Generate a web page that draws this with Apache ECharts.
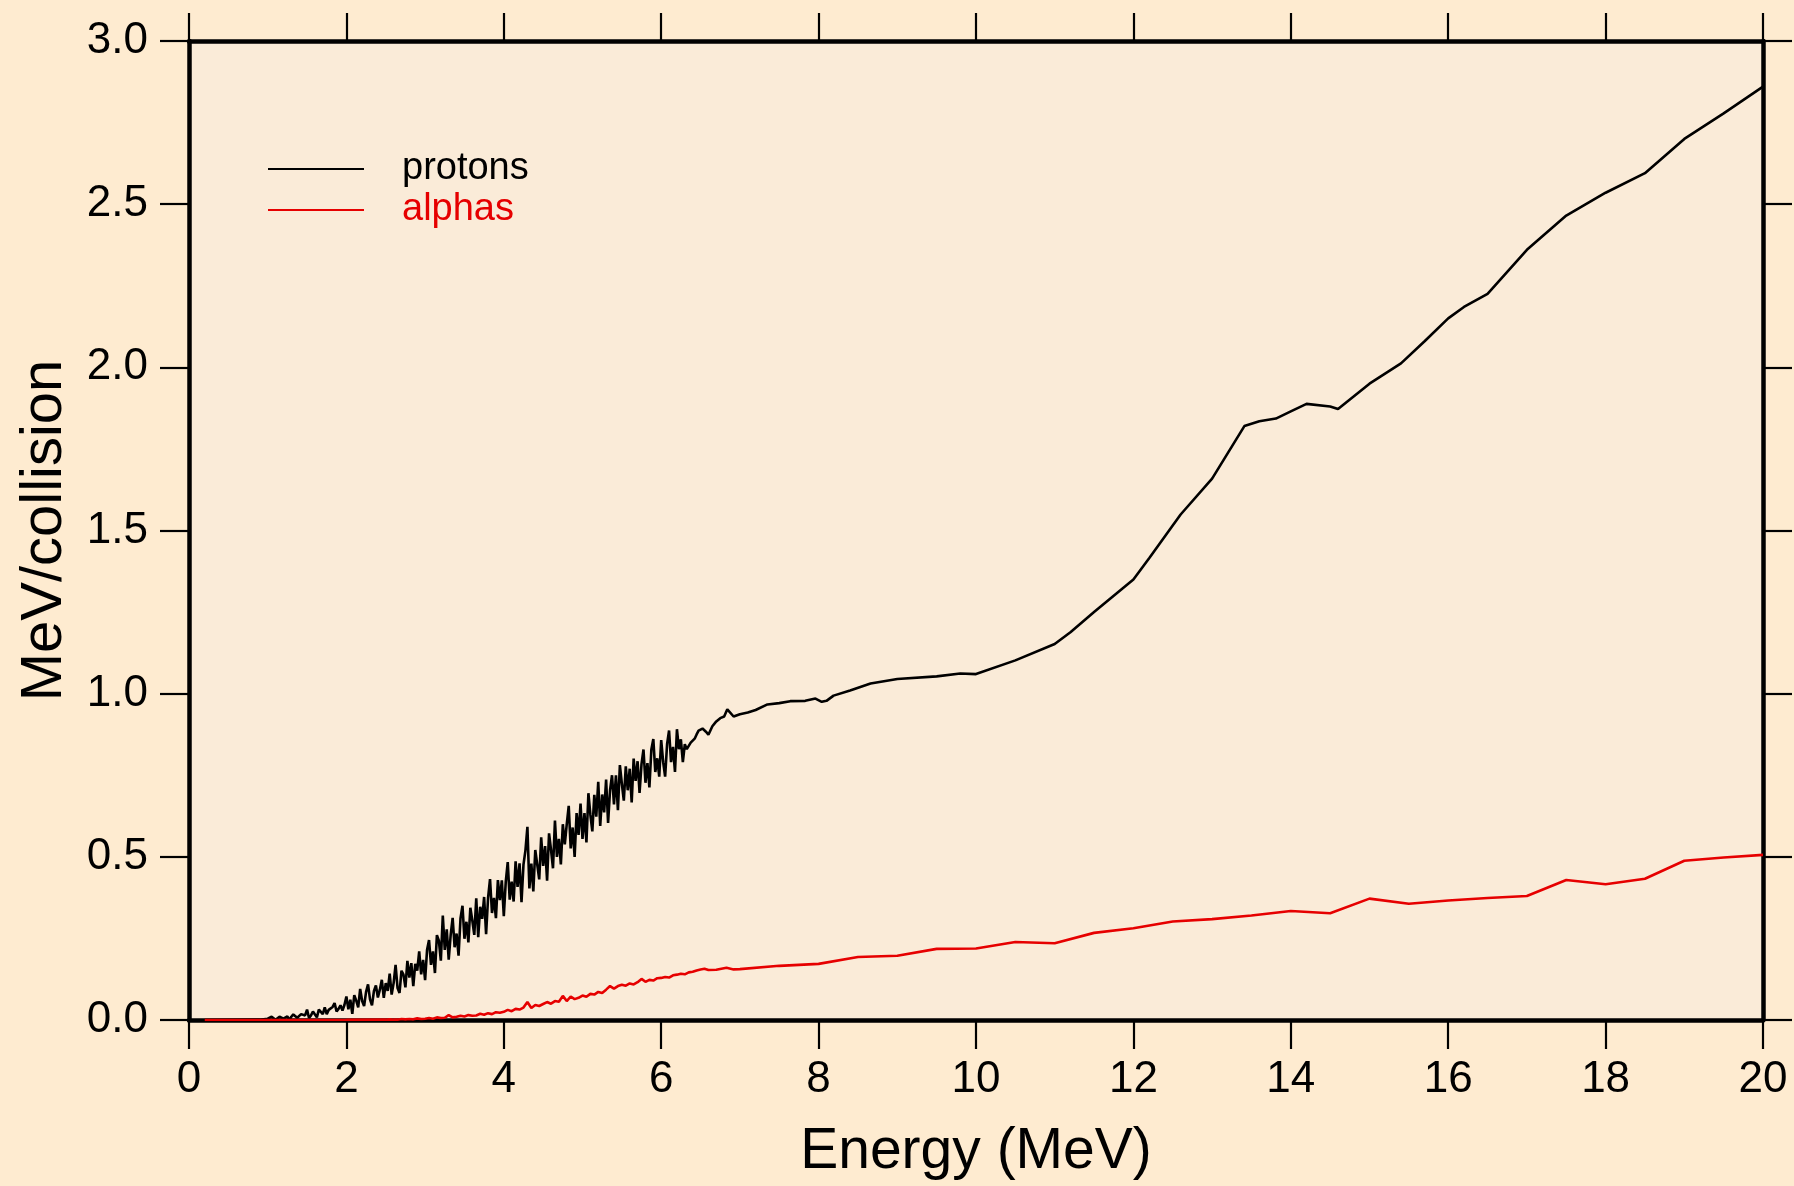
<!DOCTYPE html>
<html>
<head>
<meta charset="utf-8">
<script src="https://cdn.jsdelivr.net/npm/echarts@6/dist/echarts.min.js"></script>
<style>
  html, body { margin: 0; padding: 0; background: #FEEBD0; }
  #chart { width: 1794px; height: 1186px; }
</style>
</head>
<body>
<div id="chart"></div>
<script>
// ---- data (Energy in MeV, MeV/collision) ----
const xTicks = [0, 2, 4, 6, 8, 10, 12, 14, 16, 18, 20];
const yTicks = [0.0, 0.5, 1.0, 1.5, 2.0, 2.5, 3.0];
const seriesNames = ['protons', 'alphas'];

const protonLow = [[0.2,0.000],[0.9,0.001]];
const protonNoisy = [
  [1.000,0.004],[1.025,0.000],[1.050,0.010],[1.075,0.005],[1.100,0.001],[1.125,0.000],[1.150,0.010],[1.175,0.014],
  [1.200,0.004],[1.225,0.002],[1.250,0.011],[1.275,0.000],[1.300,0.010],[1.325,0.017],[1.350,0.013],[1.375,0.007],
  [1.400,0.006],[1.425,0.018],[1.450,0.016],[1.475,0.014],[1.500,0.032],[1.525,0.006],[1.550,0.014],[1.575,0.026],
  [1.600,0.020],[1.625,0.008],[1.650,0.032],[1.675,0.028],[1.700,0.018],[1.725,0.039],[1.750,0.018],[1.775,0.031],
  [1.800,0.025],[1.825,0.040],[1.850,0.052],[1.875,0.026],[1.900,0.034],[1.925,0.045],[1.950,0.029],[1.975,0.046],
  [2.000,0.072],[2.025,0.033],[2.050,0.062],[2.075,0.019],[2.100,0.076],[2.125,0.059],[2.150,0.039],[2.175,0.095],
  [2.200,0.058],[2.225,0.043],[2.250,0.086],[2.275,0.109],[2.300,0.063],[2.325,0.045],[2.350,0.089],[2.375,0.106],
  [2.400,0.069],[2.425,0.093],[2.450,0.123],[2.475,0.068],[2.500,0.113],[2.525,0.089],[2.550,0.142],[2.575,0.078],
  [2.600,0.113],[2.625,0.169],[2.650,0.098],[2.675,0.083],[2.700,0.151],[2.725,0.139],[2.750,0.100],[2.775,0.181],
  [2.800,0.130],[2.825,0.174],[2.850,0.104],[2.875,0.172],[2.900,0.151],[2.925,0.210],[2.950,0.140],[2.975,0.184],
  [3.000,0.122],[3.025,0.215],[3.050,0.245],[3.075,0.169],[3.100,0.210],[3.125,0.144],[3.150,0.260],[3.175,0.243],
  [3.200,0.182],[3.225,0.320],[3.250,0.215],[3.275,0.278],[3.300,0.185],[3.325,0.261],[3.350,0.313],[3.375,0.223],
  [3.400,0.265],[3.425,0.197],[3.450,0.312],[3.475,0.350],[3.500,0.249],[3.525,0.301],[3.550,0.238],[3.575,0.344],
  [3.600,0.305],[3.625,0.261],[3.650,0.373],[3.675,0.254],[3.700,0.347],[3.725,0.310],[3.750,0.377],[3.775,0.263],
  [3.800,0.374],[3.825,0.432],[3.850,0.328],[3.875,0.374],[3.900,0.312],[3.925,0.429],[3.950,0.367],[3.975,0.428],
  [4.000,0.318],[4.025,0.424],[4.050,0.484],[4.075,0.369],[4.100,0.424],[4.125,0.363],[4.150,0.486],[4.175,0.408],
  [4.200,0.480],[4.225,0.361],[4.250,0.476],[4.275,0.520],[4.300,0.592],[4.325,0.403],[4.350,0.479],[4.375,0.394],
  [4.400,0.521],[4.425,0.476],[4.450,0.431],[4.475,0.560],[4.500,0.472],[4.525,0.533],[4.550,0.427],[4.575,0.572],
  [4.600,0.521],[4.625,0.465],[4.650,0.611],[4.675,0.500],[4.700,0.555],[4.725,0.477],[4.750,0.600],[4.775,0.538],
  [4.800,0.600],[4.825,0.656],[4.850,0.526],[4.875,0.590],[4.900,0.500],[4.925,0.634],[4.950,0.567],[4.975,0.663],
  [5.000,0.555],[5.025,0.634],[5.050,0.544],[5.075,0.695],[5.100,0.629],[5.125,0.578],[5.150,0.690],[5.175,0.623],
  [5.200,0.730],[5.225,0.595],[5.250,0.691],[5.275,0.636],[5.300,0.737],[5.325,0.604],[5.350,0.704],[5.375,0.750],
  [5.400,0.661],[5.425,0.750],[5.450,0.643],[5.475,0.781],[5.500,0.724],[5.525,0.672],[5.550,0.777],[5.575,0.704],
  [5.600,0.770],[5.625,0.667],[5.650,0.801],[5.675,0.733],[5.700,0.793],[5.725,0.696],[5.750,0.785],[5.775,0.829],
  [5.800,0.727],[5.825,0.787],[5.850,0.713],[5.875,0.829],[5.900,0.861],[5.925,0.760],[5.950,0.802],[5.975,0.746],
  [6.000,0.858],[6.025,0.790],[6.050,0.746],[6.075,0.846],[6.100,0.887],[6.125,0.790],[6.150,0.837],[6.175,0.760],
  [6.200,0.891],[6.225,0.830],[6.250,0.860],[6.275,0.790],[6.300,0.845],[6.325,0.830],[6.350,0.840],[6.375,0.850],
  [6.400,0.855],[6.425,0.862],[6.450,0.875],[6.475,0.887],[6.500,0.890],[6.525,0.893],[6.550,0.895],[6.575,0.882],
  [6.600,0.874]
];
const protonSmooth = [
  [6.65,0.900],[6.70,0.915],[6.75,0.925],[6.80,0.930],[6.84,0.952],[6.92,0.930],[7.00,0.937],[7.10,0.942],
  [7.20,0.950],[7.35,0.967],[7.50,0.971],[7.64,0.977],[7.83,0.978],[7.96,0.985],[8.04,0.975],[8.10,0.978],
  [8.19,0.994],[8.40,1.010],[8.66,1.031],[9.00,1.045],[9.50,1.053],[9.80,1.062],[10.00,1.060],[10.50,1.102],
  [11.00,1.152],[11.20,1.188],[11.50,1.250],[12.00,1.350],[12.20,1.415],[12.60,1.549],[13.00,1.659],[13.41,1.820],
  [13.60,1.835],[13.81,1.843],[14.00,1.865],[14.20,1.888],[14.50,1.880],[14.60,1.872],[15.00,1.950],[15.40,2.012],
  [15.70,2.080],[16.00,2.150],[16.20,2.185],[16.50,2.225],[17.00,2.360],[17.50,2.465],[18.00,2.535],[18.50,2.595],
  [19.00,2.700],[19.50,2.778],[20.00,2.860]
];

const alphaLow = [[0.2,0.000],[2.0,0.0005]];
const alphaNoisy = [
  [2.50,0.001],[2.55,0.002],[2.60,0.001],[2.65,0.001],[2.70,0.003],[2.75,0.002],[2.80,0.003],[2.85,0.002],
  [2.90,0.005],[2.95,0.003],[3.00,0.004],[3.05,0.006],[3.10,0.004],[3.15,0.008],[3.20,0.006],[3.25,0.007],
  [3.30,0.015],[3.35,0.008],[3.40,0.010],[3.45,0.013],[3.50,0.011],[3.55,0.015],[3.60,0.013],[3.65,0.014],
  [3.70,0.019],[3.75,0.016],[3.80,0.021],[3.85,0.018],[3.90,0.024],[3.95,0.022],[4.00,0.025],[4.05,0.031],
  [4.10,0.027],[4.15,0.034],[4.20,0.032],[4.25,0.038],[4.30,0.055],[4.35,0.037],[4.40,0.046],[4.45,0.043],
  [4.50,0.049],[4.55,0.055],[4.60,0.050],[4.65,0.058],[4.70,0.056],[4.75,0.074],[4.80,0.058],[4.85,0.072],
  [4.90,0.064],[4.95,0.068],[5.00,0.075],[5.05,0.071],[5.10,0.080],[5.15,0.078],[5.20,0.086],[5.25,0.083],
  [5.30,0.093],[5.35,0.104],[5.40,0.096],[5.45,0.104],[5.50,0.108],[5.55,0.105],[5.60,0.112],[5.65,0.109],
  [5.70,0.116],[5.75,0.126],[5.80,0.117],[5.85,0.123],[5.90,0.121],[5.95,0.128],[6.00,0.129],[6.05,0.132],
  [6.10,0.130],[6.15,0.137],[6.20,0.139],[6.25,0.142],[6.30,0.140],[6.35,0.146],[6.40,0.148],[6.45,0.152],
  [6.50,0.155],[6.55,0.157],[6.60,0.153]
];
const alphaSmooth = [
  [6.70,0.154],[6.83,0.160],[6.92,0.155],[7.00,0.156],[7.50,0.166],[8.00,0.172],[8.50,0.193],[9.00,0.197],
  [9.50,0.218],[10.00,0.219],[10.50,0.239],[11.00,0.235],[11.50,0.267],[12.00,0.281],[12.50,0.302],[13.00,0.309],
  [13.50,0.320],[14.00,0.334],[14.50,0.327],[15.00,0.372],[15.50,0.356],[16.00,0.366],[16.50,0.374],[17.00,0.380],
  [17.50,0.429],[18.00,0.416],[18.50,0.433],[19.00,0.488],[19.50,0.498],[20.00,0.506]
];

const protons = protonLow.concat(protonNoisy, protonSmooth);
const alphas = alphaLow.concat(alphaNoisy, alphaSmooth);

// ---- chart ----
const FONT = "'Liberation Sans', Arial, sans-serif";
const RED = '#e60000';
const chart = echarts.init(document.getElementById('chart'), null, { renderer: 'canvas' });

const axisLine = { show: true, onZero: false, lineStyle: { color: '#000', width: 4.5 } };
const tickStyle = { lineStyle: { color: '#000', width: 2.2 } };

chart.setOption({
  animation: false,
  backgroundColor: '#FEEBD0',
  grid: {
    left: 189, right: 31, top: 41, bottom: 165,
    show: true, backgroundColor: '#FAEBD8', borderWidth: 0
  },
  legend: {
    orient: 'vertical',
    left: 268, top: 150, padding: 0,
    itemWidth: 96, itemHeight: 2, itemGap: 3,
    icon: 'rect',
    textStyle: { fontFamily: FONT, fontSize: 38, padding: [0, 0, 0, 33] },
    data: [
      { name: seriesNames[0], textStyle: { color: '#000' } },
      { name: seriesNames[1], textStyle: { color: RED } }
    ]
  },
  xAxis: [{
    type: 'value', position: 'bottom', min: xTicks[0], max: xTicks[xTicks.length - 1], interval: 2,
    name: 'Energy (MeV)', nameLocation: 'middle', nameGap: 104,
    nameTextStyle: { fontFamily: FONT, fontSize: 57, color: '#000' },
    axisLine: axisLine,
    axisTick: Object.assign({ show: true, inside: false, length: 29 }, tickStyle),
    axisLabel: { show: true, margin: 38, fontFamily: FONT, fontSize: 44, color: '#000', showMinLabel: true, showMaxLabel: true },
    splitLine: { show: false }
  }, {
    type: 'value', position: 'top', min: xTicks[0], max: xTicks[xTicks.length - 1], interval: 2,
    axisLine: axisLine,
    axisTick: Object.assign({ show: true, inside: false, length: 28 }, tickStyle),
    axisLabel: { show: false },
    splitLine: { show: false }
  }],
  yAxis: [{
    type: 'value', position: 'left', min: yTicks[0], max: yTicks[yTicks.length - 1], interval: 0.5,
    name: 'MeV/collision', nameLocation: 'middle', nameGap: 115, nameRotate: 90,
    nameTextStyle: { fontFamily: FONT, fontSize: 58, color: '#000' },
    axisLine: axisLine,
    axisTick: Object.assign({ show: true, inside: false, length: 29 }, tickStyle),
    axisLabel: { show: true, margin: 41, fontFamily: FONT, fontSize: 44, color: '#000',
      formatter: v => v.toFixed(1), showMinLabel: true, showMaxLabel: true },
    splitLine: { show: false }
  }, {
    type: 'value', position: 'right', min: yTicks[0], max: yTicks[yTicks.length - 1], interval: 0.5,
    axisLine: axisLine,
    axisTick: Object.assign({ show: true, inside: false, length: 29 }, tickStyle),
    axisLabel: { show: false },
    splitLine: { show: false }
  }],
  series: [{
    name: seriesNames[0], type: 'line', data: protons,
    xAxisIndex: 0, yAxisIndex: 0,
    showSymbol: false, symbol: 'none',
    color: '#000',
    lineStyle: { color: '#000', width: 2.6 },
    z: 2
  }, {
    name: seriesNames[1], type: 'line', data: alphas,
    xAxisIndex: 0, yAxisIndex: 0,
    showSymbol: false, symbol: 'none',
    color: RED,
    lineStyle: { color: RED, width: 2.6 },
    z: 3
  }]
});
</script>
</body>
</html>
